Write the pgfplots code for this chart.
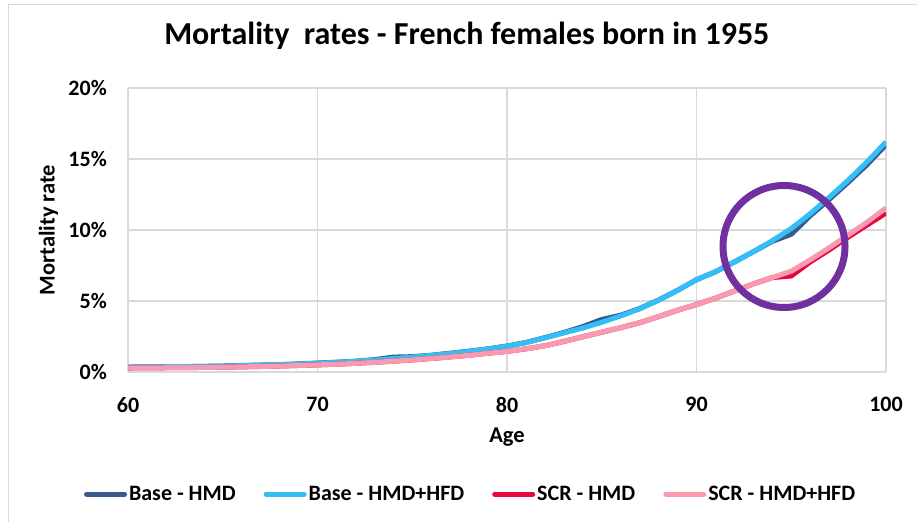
\documentclass[border=0pt]{standalone}
\usepackage{pgfplots}
\usepackage{pgfplotstable}
\pgfplotsset{compat=1.18}
\usepackage{fontspec}
\setmainfont{Carlito}

\definecolor{darkblue}{HTML}{3A5A8C}
\definecolor{lightblue}{HTML}{33BFF5}
\definecolor{scrred}{HTML}{E8073C}
\definecolor{scrpink}{HTML}{FA9AB0}
\definecolor{circ}{HTML}{7030A0}
\definecolor{gridgray}{HTML}{D9D9D9}

% mortality rates in %
\pgfplotstableread{
age bhmd  bhfd  shmd  shfd
60  0.35  0.35  0.28  0.28
61  0.36  0.36  0.29  0.29
62  0.37  0.37  0.30  0.30
63  0.38  0.38  0.31  0.31
64  0.40  0.40  0.32  0.32
65  0.42  0.42  0.34  0.34
66  0.46  0.45  0.36  0.36
67  0.49  0.48  0.39  0.39
68  0.52  0.52  0.42  0.42
69  0.57  0.56  0.46  0.46
70  0.63  0.62  0.50  0.50
71  0.69  0.68  0.55  0.55
72  0.76  0.75  0.61  0.61
73  0.87  0.84  0.68  0.68
74  1.05  0.95  0.76  0.76
75  1.08  1.05  0.85  0.85
76  1.18  1.17  0.95  0.95
77  1.32  1.30  1.06  1.06
78  1.47  1.45  1.18  1.18
79  1.63  1.62  1.32  1.32
80  1.83  1.82  1.45  1.45
81  2.08  2.07  1.63  1.63
82  2.42  2.40  1.85  1.85
83  2.78  2.75  2.15  2.15
84  3.20  3.10  2.48  2.48
85  3.70  3.50  2.80  2.80
86  4.00  3.95  3.12  3.12
87  4.47  4.45  3.47  3.47
88  5.07  5.05  3.90  3.90
89  5.75  5.75  4.35  4.35
90  6.50  6.50  4.75  4.75
91  7.06  7.06  5.20  5.20
92  7.75  7.75  5.70  5.70
93  8.47  8.47  6.20  6.20
94  9.20  9.25  6.65  6.65
95  9.70  10.10 6.76  7.10
96  11.00 11.15 7.75  7.90
97  12.15 12.30 8.60  8.75
98  13.35 13.50 9.50  9.65
99  14.60 14.80 10.35 10.55
100 16.00 16.20 11.20 11.55
}\mortality

\begin{document}
\begin{tikzpicture}
\useasboundingbox (0pt,0pt) rectangle (917pt,522pt);
\fill[white] (0pt,0pt) rectangle (917pt,522pt);
\draw[gridgray, line width=1pt] (8pt,0pt) -- (8pt,517pt) -- (917pt,517pt);
\begin{axis}[
  at={(128pt,150pt)}, anchor=south west,
  scale only axis, width=758pt, height=284pt,
  xmin=60, xmax=100, ymin=0, ymax=20,
  xtick={60,70,80,90,100},
  ytick={0,5,10,15,20},
  yticklabels={0\%,5\%,10\%,15\%,20\%},
  axis line style={draw=none},
  major tick length=0pt,
  grid=major,
  major grid style={gridgray, line width=1.6pt},
  /pgf/number format/assume math mode=true,
  tick label style={font=\fontsize{22}{22}\selectfont\bfseries},
  yticklabel style={anchor=east, inner sep=0pt, xshift=-21pt},
  xticklabel style={anchor=north, inner sep=0pt, yshift=-25pt},
  ylabel={Mortality rate},
  xlabel={Age},
  every axis y label/.style={at={(axis description cs:-0.105,0.5)}, rotate=90, anchor=center,
    font=\fontsize{22.5}{22.5}\selectfont\bfseries},
  every axis x label/.style={at={(axis description cs:0.5,-0.229)}, anchor=center,
    font=\fontsize{22.5}{22.5}\selectfont\bfseries},
  title={Mortality\ \ rates - French females born in 1955},
  title style={at={(axis description cs:0.447,1.162)}, anchor=center, font=\fontsize{32}{32}\selectfont\bfseries},
  legend columns=4,
  legend style={at={(axis description cs:0.452,-0.43)}, anchor=center, draw=none, fill=none,
    font=\fontsize{22}{22}\selectfont\bfseries,
    /tikz/every even column/.append style={column sep=26pt}},
  legend image code/.code={\draw[#1, line width=5pt, line cap=round] (0pt,0pt) -- (38pt,0pt);},
  every axis plot/.append style={line width=5pt, line join=round},
]
\addplot[darkblue] table[x=age, y=bhmd] {\mortality};
\addlegendentry{Base - HMD}
\addplot[lightblue] table[x=age, y=bhfd] {\mortality};
\addlegendentry{Base - HMD+HFD}
\addplot[scrred] table[x=age, y=shmd] {\mortality};
\addlegendentry{SCR - HMD}
\addplot[scrpink] table[x=age, y=shfd] {\mortality};
\addlegendentry{SCR - HMD+HFD}
\end{axis}
\draw[circ, line width=7pt] (784pt,275.5pt) circle[radius=61pt];
\end{tikzpicture}
\end{document}
